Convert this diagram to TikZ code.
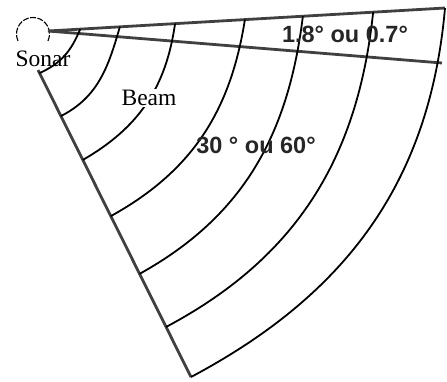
\documentclass[tikz,border=0pt]{standalone}
\usepackage{fontspec}
\setmainfont{Liberation Serif}
\newfontfamily\labelsans{Liberation Sans}
\usepackage{tikz}
\usetikzlibrary{calc}

\begin{document}
\begin{tikzpicture}[
  x=1pt, y=1pt,
  beamline/.style={draw=black!75, line width=2.8pt},
  wave/.style={draw=black, line width=1.8pt},
  serifnote/.style={font=\fontsize{23.5}{25}\selectfont, inner sep=0pt},
  anglenote/.style={font=\labelsans\bfseries\fontsize{23.5}{25}\selectfont, text=black!85, inner sep=0pt}
]
\useasboundingbox (0,0) rectangle (447,-381);

% sonar head
\coordinate (sonarc) at (33,-34);
\draw[black, line width=1.1pt, dash pattern=on 6pt off 1.5pt] ([shift={(-25:16.5)}]sonarc) arc[start angle=-25, end angle=205, radius=16.5];

% beam edges
\coordinate (apex) at (48,-31);
\coordinate (topend) at (445,-8);
\coordinate (lowend) at (442,-63);
\coordinate (edgetop) at (38,-70);
\coordinate (edgebot) at (191,-377);

\draw[beamline] (apex) -- (topend);
\draw[beamline] (apex) -- (lowend);
\draw[beamline] (edgetop) -- (edgebot);

% wave fronts
\foreach \a/\b/\o/\n in {0.081/0.01/-112/24, 0.181/0.15/-106/27, 0.32/0.293/-98/30,
    0.496/0.476/-99/29, 0.642/0.664/-97/29, 0.819/0.837/-96/28, 1/1/-95/28}
  \draw[wave] ($(apex)!\a!(topend)$) to[out=\o, in=\n] ($(edgetop)!\b!(edgebot)$);

% labels
\node[serifnote] (sonar) at (43,-59) {Sonar};
\node[serifnote, fill=white, inner sep=1pt] (beam) at (149,-98) {Beam};
\node[anglenote] (narrow) at (345,-34) {1.8° ou 0.7°};
\node[anglenote] (wide) at (256,-145) {30 ° ou 60°};
\end{tikzpicture}
\end{document}
